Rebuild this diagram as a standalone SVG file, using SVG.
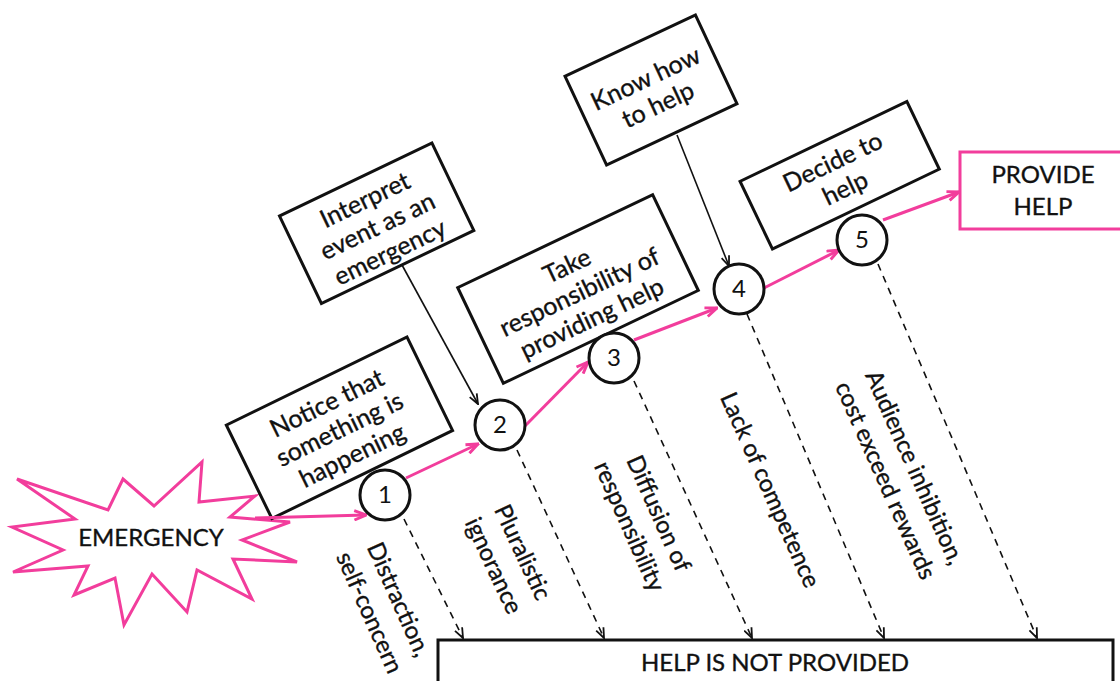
<svg xmlns="http://www.w3.org/2000/svg" width="1120" height="681" viewBox="0 0 1120 681">
  <defs>
    <style>
      text { font-family: Lato, "Liberation Sans", sans-serif; fill: #111; stroke: #111; stroke-width: 0.35; }
      .box { fill: #fff; stroke: #111; stroke-width: 3; }
      .lbl { font-size: 25px; text-anchor: middle; }
      .side { font-size: 24px; text-anchor: middle; }
      .num { font-size: 24px; text-anchor: middle; stroke-width: 0; }
      .step { fill: #fff; stroke: #111; stroke-width: 3; }
      .flow { fill: none; stroke: #f23d9c; stroke-width: 3; marker-end: url(#pinkHead); }
      .feed { fill: none; stroke: #111; stroke-width: 1.6; marker-end: url(#blackHead); }
      .fail { fill: none; stroke: #111; stroke-width: 1.6; stroke-dasharray: 7 6; marker-end: url(#dashHead); }
    </style>
    <marker id="pinkHead" viewBox="0 0 12 10" refX="11" refY="5" markerWidth="14" markerHeight="12" markerUnits="userSpaceOnUse" orient="auto">
      <path d="M1,1 L11,5 L1,9" fill="none" stroke="#f23d9c" stroke-width="2.5"/>
    </marker>
    <marker id="blackHead" viewBox="0 0 12 10" refX="11" refY="5" markerWidth="12" markerHeight="10" markerUnits="userSpaceOnUse" orient="auto">
      <path d="M1,1 L11,5 L1,9" fill="none" stroke="#111" stroke-width="1.8"/>
    </marker>
    <marker id="dashHead" viewBox="0 0 12 10" refX="11" refY="5" markerWidth="12" markerHeight="10" markerUnits="userSpaceOnUse" orient="auto">
      <path d="M1,1 L11,5 L1,9" fill="none" stroke="#111" stroke-width="1.8"/>
    </marker>
  </defs>

  <rect width="1120" height="681" fill="#fff"/>

  <!-- starting event -->
  <g id="emergency">
    <polygon points="17,479 108,510 123,479 154,506 202,462 199,502 255,496 230,517 290,522 242,540 297,562 233,559 252,599 197,570 187,612 152,574 124,625 115,578 74,595 88,566 13,572 63,550 12,527 75,519" fill="#fff" stroke="#f23d9c" stroke-width="3" stroke-linejoin="miter"/>
    <text x="151" y="546" font-size="24" text-anchor="middle">EMERGENCY</text>
  </g>

  <!-- step descriptions -->
  <g id="notice" transform="translate(339,428) rotate(-26)">
    <rect class="box" x="-100" y="-52" width="201" height="104"/>
    <text class="lbl" y="-19">Notice that</text>
    <text class="lbl" y="10">something is</text>
    <text class="lbl" y="39">happening</text>
  </g>
  <g id="interpret" transform="translate(376,223) rotate(-25.6)">
    <rect class="box" x="-84" y="-48" width="169" height="97"/>
    <text class="lbl" y="-17">Interpret</text>
    <text class="lbl" y="12">event as an</text>
    <text class="lbl" y="41">emergency</text>
  </g>
  <g id="responsibility" transform="translate(578,289) rotate(-25.5)">
    <rect class="box" x="-108" y="-53" width="216" height="106"/>
    <text class="lbl" y="-17">Take</text>
    <text class="lbl" y="12">responsibility of</text>
    <text class="lbl" y="41">providing help</text>
  </g>
  <g id="knowhow" transform="translate(651,90) rotate(-25.1)">
    <rect class="box" x="-72" y="-49" width="144" height="98"/>
    <text class="lbl" y="-4">Know how</text>
    <text class="lbl" y="25">to help</text>
  </g>
  <g id="decide" transform="translate(839,175) rotate(-25.6)">
    <rect class="box" x="-92" y="-37" width="185" height="75"/>
    <text class="lbl" y="-6">Decide to</text>
    <text class="lbl" y="23">help</text>
  </g>

  <!-- outcomes -->
  <g id="provide">
    <rect x="960" y="152" width="170" height="77" fill="#fff" stroke="#f23d9c" stroke-width="3"/>
    <text x="1043" y="183" font-size="24" text-anchor="middle">PROVIDE</text>
    <text x="1043" y="215" font-size="24" text-anchor="middle">HELP</text>
  </g>
  <g id="notprovided">
    <rect x="438" y="640" width="675" height="60" fill="#fff" stroke="#111" stroke-width="3"/>
    <text x="775" y="671" font-size="24" text-anchor="middle">HELP IS NOT PROVIDED</text>
  </g>

  <!-- connectors -->
  <g id="connectors">
    <line class="flow" x1="255" y1="518" x2="366" y2="515"/>
    <line class="flow" x1="406" y1="478" x2="478" y2="444"/>
    <line class="flow" x1="523" y1="428" x2="588" y2="362"/>
    <line class="flow" x1="634" y1="340" x2="717" y2="308"/>
    <line class="flow" x1="764" y1="288" x2="839" y2="250"/>
    <line class="flow" x1="883" y1="220" x2="959" y2="192"/>
    <line class="feed" x1="402" y1="265" x2="478" y2="404"/>
    <line class="feed" x1="677" y1="135" x2="729" y2="266"/>
    <line class="fail" x1="404" y1="519" x2="463" y2="638"/>
    <line class="fail" x1="517" y1="450" x2="604" y2="638"/>
    <line class="fail" x1="634" y1="381" x2="752" y2="638"/>
    <line class="fail" x1="747" y1="314" x2="884" y2="638"/>
    <line class="fail" x1="878" y1="264" x2="1037" y2="638"/>
  </g>

  <!-- numbered steps -->
  <g id="step1"><circle class="step" cx="385" cy="495" r="25"/><text class="num" x="385" y="503">1</text></g>
  <g id="step2"><circle class="step" cx="500" cy="425" r="25"/><text class="num" x="500" y="433">2</text></g>
  <g id="step3"><circle class="step" cx="614" cy="358" r="25"/><text class="num" x="614" y="366">3</text></g>
  <g id="step4"><circle class="step" cx="739" cy="289" r="25"/><text class="num" x="739" y="297">4</text></g>
  <g id="step5"><circle class="step" cx="862" cy="240" r="25"/><text class="num" x="862" y="248">5</text></g>

  <!-- barriers -->
  <g id="barrier1" transform="translate(384,606) rotate(66)">
    <text class="side" y="-8">Distraction,</text>
    <text class="side" y="24">self-concern</text>
  </g>
  <g id="barrier2" transform="translate(508,559) rotate(65)">
    <text class="side" y="-8">Pluralistic</text>
    <text class="side" y="24">ignorance</text>
  </g>
  <g id="barrier3" transform="translate(644,520) rotate(66)">
    <text class="side" y="-8">Diffusion of</text>
    <text class="side" y="24">responsibility</text>
  </g>
  <g id="barrier4" transform="translate(770,490) rotate(66)">
    <text class="side" y="8">Lack of competence</text>
  </g>
  <g id="barrier5" transform="translate(900,474) rotate(66)">
    <text class="side" y="-8">Audience inhibition,</text>
    <text class="side" y="24">cost exceed rewards</text>
  </g>
</svg>
